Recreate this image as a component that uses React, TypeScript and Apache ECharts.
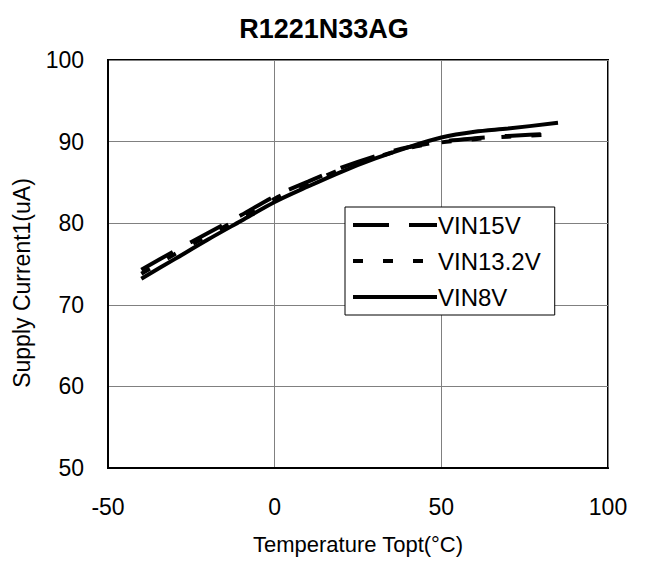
import React, { useEffect, useRef } from "react";
import * as echarts from "echarts";

const temps = [-40, -30, -20, -10, 0, 10, 20, 30, 40, 50, 60, 70, 85];
const vin15 = [74.3, 76.6, 78.8, 81.0, 83.3, 85.1, 86.8, 88.2, 89.3, 90.0, 90.4, 90.7, 91.0];
const vin132 = [73.8, 76.2, 78.5, 80.7, 83.0, 84.9, 86.6, 88.0, 89.2, 89.9, 90.3, 90.6, 90.9];
const vin8 = [73.2, 75.6, 78.0, 80.3, 82.6, 84.5, 86.3, 87.9, 89.3, 90.5, 91.2, 91.6, 92.3];
const seriesNames = ["VIN15V", "VIN13.2V", "VIN8V"];
const yAxisTitle = "Supply Current1(uA)";
const xAxisTitle = "Temperature Topt(°C)";

const FONT = "'Liberation Sans', Arial, sans-serif";

export default function App() {
  const ref = useRef<HTMLDivElement>(null);
  useEffect(() => {
    const chart = echarts.init(ref.current!, null, { renderer: "svg" });
    const pair = (ys: number[]) => temps.map((t, i) => [t, ys[i]]);
    const mk = (name: string, ys: number[], type: any) => ({
      name,
      type: "line",
      data: pair(ys),
      smooth: 0.3,
      showSymbol: false,
      symbol: "none",
      lineStyle: { color: "#000", width: 4, type, cap: "butt" },
      itemStyle: { color: "#000" },
    });
    chart.setOption({
      animation: false,
      backgroundColor: "#fff",
      title: {
        text: "R1221N33AG",
        left: 319,
        top: 10,
        textAlign: "center",
        textStyle: { fontFamily: FONT, fontSize: 27, fontWeight: "bold", color: "#000" },
      },
      grid: {
        left: 108,
        right: 41,
        top: 60,
        bottom: 93,
        show: true,
        borderColor: "#000",
        borderWidth: 2,
        backgroundColor: "transparent",
      },
      graphic: [
        {
          type: "text",
          x: 22,
          y: 283,
          rotation: Math.PI / 2,
          style: {
            text: yAxisTitle,
            fontFamily: FONT,
            fontSize: 23,
            fill: "#000",
            textAlign: "center",
            textVerticalAlign: "middle",
          },
        },
      ],
      legend: {
        data: seriesNames,
        orient: "vertical",
        left: 345,
        top: 207,
        backgroundColor: "#fff",
        borderColor: "#000",
        borderWidth: 1,
        borderRadius: 0,
        padding: [6, 14, 6, 6],
        itemGap: 12,
        itemWidth: 84,
        itemHeight: 14,
        itemStyle: { opacity: 0 },
        lineStyle: { width: 4 },
        textStyle: { fontFamily: FONT, fontSize: 24, color: "#000", padding: [0, 0, 0, -4] },
      },
      xAxis: {
        type: "value",
        min: -50,
        max: 100,
        interval: 50,
        name: xAxisTitle,
        nameLocation: "middle",
        nameGap: 65,
        nameTextStyle: { fontFamily: FONT, fontSize: 22, color: "#000" },
        axisLine: { show: true, onZero: false, lineStyle: { color: "#000", width: 2 } },
        axisTick: { show: false },
        axisLabel: { fontFamily: FONT, fontSize: 23, color: "#000", margin: 27 },
        splitLine: { show: true, lineStyle: { color: "#808080", width: 1 } },
      },
      yAxis: {
        type: "value",
        min: 50,
        max: 100,
        interval: 10,
        axisLine: { show: true, onZero: false, lineStyle: { color: "#000", width: 2 } },
        axisTick: { show: false },
        axisLabel: { fontFamily: FONT, fontSize: 23, color: "#000", margin: 24 },
        splitLine: { show: true, lineStyle: { color: "#808080", width: 1 } },
      },
      series: [
        mk("VIN15V", vin15, [36, 20]),
        mk("VIN13.2V", vin132, [10, 20]),
        mk("VIN8V", vin8, "solid"),
      ],
    });
    return () => chart.dispose();
  }, []);
  return <div ref={ref} style={{ width: 649, height: 561, position: "absolute", left: 0, top: 0 }} />;
}
